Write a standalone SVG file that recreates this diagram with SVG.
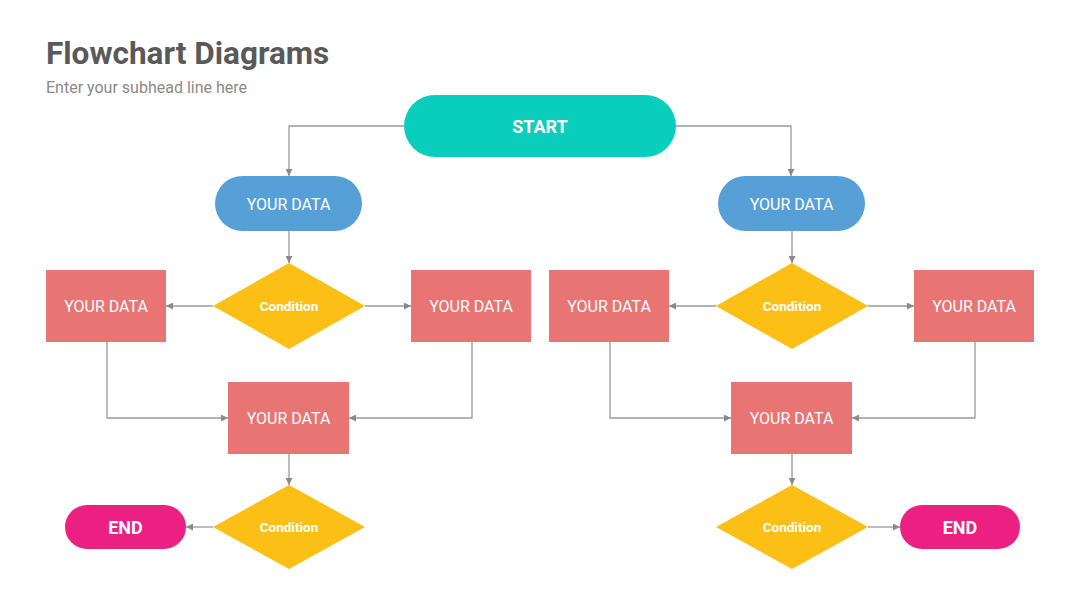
<svg xmlns="http://www.w3.org/2000/svg" width="1080" height="608" viewBox="0 0 1080 608">
<style>
.t{font-family:Roboto,"Liberation Sans",sans-serif;fill:#fff;text-anchor:middle;dominant-baseline:central}
.d{font-size:16px}
.c{font-size:13.5px;font-weight:700}
.b{font-size:18px;font-weight:700}
.rect{fill:#E87474}
.dia{fill:#FCBF16}
.pill{fill:#569FD7}
.end{fill:#EC1F82}
.ln{fill:none;stroke:#9a9a9a;stroke-width:1.3;marker-end:url(#ah)}
</style>
<defs>
<marker id="ah" viewBox="0 0 10 10" refX="10" refY="5" markerWidth="7" markerHeight="7" markerUnits="userSpaceOnUse" orient="auto">
<path d="M0,0 L10,5 L0,10 z" fill="#8a8a8a"/>
</marker>
</defs>
<rect width="1080" height="608" fill="#fff"/>
<text x="46" y="64" font-family="Roboto,'Liberation Sans',sans-serif" font-size="31.5" font-weight="700" fill="#595959">Flowchart Diagrams</text>
<text x="46" y="93" font-family="Roboto,'Liberation Sans',sans-serif" font-size="16" fill="#8a8a8a">Enter your subhead line here</text>
<g id="connectors">
<path class="ln" d="M404,126 H289 V176"/>
<path class="ln" d="M676,126 H791 V176"/>
<path class="ln" d="M289,231 V263"/>
<path class="ln" d="M792,231 V263"/>
<path class="ln" d="M213,306 H166"/>
<path class="ln" d="M365,306 H411"/>
<path class="ln" d="M716,306 H669"/>
<path class="ln" d="M868,306 H914"/>
<path class="ln" d="M107,342 V418 H228"/>
<path class="ln" d="M472,342 V418 H349"/>
<path class="ln" d="M610,342 V418 H731"/>
<path class="ln" d="M975,342 V418 H852"/>
<path class="ln" d="M289,454 V485"/>
<path class="ln" d="M792,454 V485"/>
<path class="ln" d="M213,527 H186"/>
<path class="ln" d="M868,527 H900"/>
</g>
<g id="start"><rect x="404" y="95" width="272" height="62" rx="31" fill="#09CEBB"/><text class="t b" x="540" y="126">START</text></g>
<g id="data-l"><rect class="pill" x="215" y="176" width="147" height="55" rx="27.5"/><text class="t d" x="288.5" y="204">YOUR DATA</text></g>
<g id="data-r"><rect class="pill" x="718" y="176" width="147" height="55" rx="27.5"/><text class="t d" x="791.5" y="204">YOUR DATA</text></g>
<g id="cond-l1"><polygon class="dia" points="289,263 365,306 289,349 213,306"/><text class="t c" x="289" y="306">Condition</text></g>
<g id="cond-r1"><polygon class="dia" points="792,263 868,306 792,349 716,306"/><text class="t c" x="792" y="306">Condition</text></g>
<g id="rect-l1"><rect class="rect" x="46" y="270" width="120" height="72"/><text class="t d" x="106" y="306">YOUR DATA</text></g>
<g id="rect-l2"><rect class="rect" x="411" y="270" width="120" height="72"/><text class="t d" x="471" y="306">YOUR DATA</text></g>
<g id="rect-r1"><rect class="rect" x="549" y="270" width="120" height="72"/><text class="t d" x="609" y="306">YOUR DATA</text></g>
<g id="rect-r2"><rect class="rect" x="914" y="270" width="120" height="72"/><text class="t d" x="974" y="306">YOUR DATA</text></g>
<g id="rect-l3"><rect class="rect" x="228" y="382" width="121" height="72"/><text class="t d" x="288.5" y="418">YOUR DATA</text></g>
<g id="rect-r3"><rect class="rect" x="731" y="382" width="121" height="72"/><text class="t d" x="791.5" y="418">YOUR DATA</text></g>
<g id="cond-l2"><polygon class="dia" points="289,485 365,527 289,569 213,527"/><text class="t c" x="289" y="527">Condition</text></g>
<g id="cond-r2"><polygon class="dia" points="792,485 868,527 792,569 716,527"/><text class="t c" x="792" y="527">Condition</text></g>
<g id="end-l"><rect class="end" x="65" y="505" width="121" height="44" rx="22"/><text class="t b" x="125.5" y="527">END</text></g>
<g id="end-r"><rect class="end" x="900" y="505" width="120" height="44" rx="22"/><text class="t b" x="960" y="527">END</text></g>
</svg>
